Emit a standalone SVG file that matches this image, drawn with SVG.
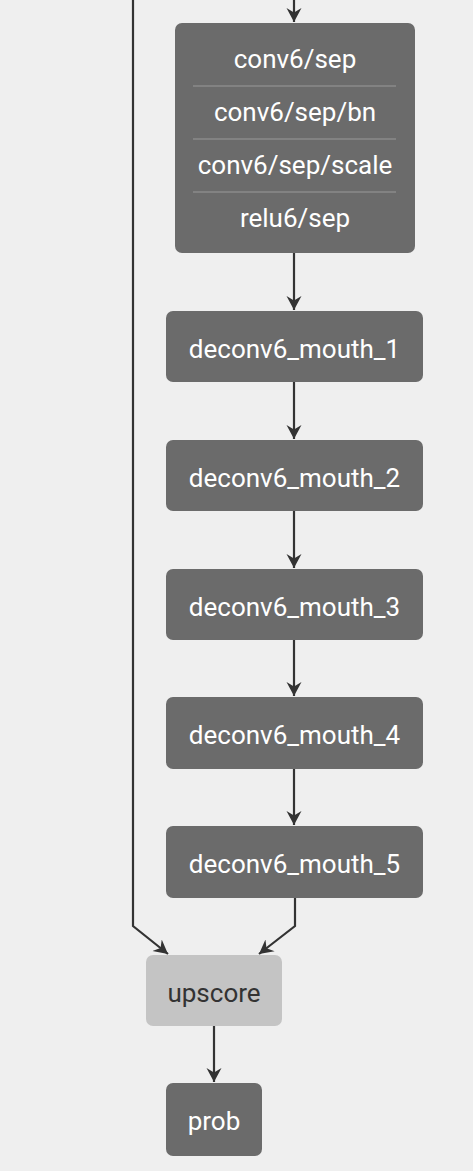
<svg xmlns="http://www.w3.org/2000/svg" width="473" height="1171" viewBox="0 0 473 1171">
<defs>
<marker id="ah" markerWidth="16" markerHeight="16" viewBox="0 0 16 16" refX="14" refY="8" orient="auto" markerUnits="userSpaceOnUse">
<path d="M0,0.5 L14,8 L0,15.5 L4.5,8 Z" fill="#333"/>
</marker>
<style>
.n{fill:#6b6b6b}
.u{fill:#c4c4c4}
.t{font-family:Roboto,"Liberation Sans",sans-serif;font-size:26px;fill:#fff;text-anchor:middle;dominant-baseline:central}
.td{fill:#333}
.e{fill:none;stroke:#333;stroke-width:2.2}
.d{stroke:#9a9a9a;stroke-width:1}
</style>
</defs>
<rect width="473" height="1171" fill="#efefef"/>
<g id="edges">
<path class="e" d="M294,0 V22" marker-end="url(#ah)"/>
<path class="e" d="M294,253 V310" marker-end="url(#ah)"/>
<path class="e" d="M294,382 V439" marker-end="url(#ah)"/>
<path class="e" d="M294,511 V568" marker-end="url(#ah)"/>
<path class="e" d="M294,640 V696" marker-end="url(#ah)"/>
<path class="e" d="M294,769 V825" marker-end="url(#ah)"/>
<path class="e" d="M133,0 V926 L168,954" marker-end="url(#ah)"/>
<path class="e" d="M295,898 V926 L259,954" marker-end="url(#ah)"/>
<path class="e" d="M214,1026 V1082" marker-end="url(#ah)"/>
</g>
<g id="conv6">
<rect class="n" x="175" y="23" width="240" height="230" rx="7"/>
<line class="d" x1="193" y1="86" x2="396" y2="86"/>
<line class="d" x1="193" y1="139" x2="396" y2="139"/>
<line class="d" x1="193" y1="192" x2="396" y2="192"/>
<text class="t" x="295" y="59">conv6/sep</text>
<text class="t" x="295" y="112">conv6/sep/bn</text>
<text class="t" x="295" y="165">conv6/sep/scale</text>
<text class="t" x="295" y="218">relu6/sep</text>
</g>
<g id="deconv6_mouth_1"><rect class="n" x="166" y="311" width="257" height="71" rx="7"/><text class="t" x="294.5" y="349">deconv6_mouth_1</text></g>
<g id="deconv6_mouth_2"><rect class="n" x="166" y="440" width="257" height="71" rx="7"/><text class="t" x="294.5" y="478">deconv6_mouth_2</text></g>
<g id="deconv6_mouth_3"><rect class="n" x="166" y="569" width="257" height="71" rx="7"/><text class="t" x="294.5" y="607">deconv6_mouth_3</text></g>
<g id="deconv6_mouth_4"><rect class="n" x="166" y="697" width="257" height="72" rx="7"/><text class="t" x="294.5" y="735">deconv6_mouth_4</text></g>
<g id="deconv6_mouth_5"><rect class="n" x="166" y="826" width="257" height="72" rx="7"/><text class="t" x="294.5" y="864">deconv6_mouth_5</text></g>
<g id="upscore"><rect class="u" x="146" y="955" width="136" height="71" rx="7"/><text class="t td" x="214" y="993">upscore</text></g>
<g id="prob"><rect class="n" x="166" y="1083" width="96" height="73" rx="7"/><text class="t" x="214" y="1121">prob</text></g>
</svg>
